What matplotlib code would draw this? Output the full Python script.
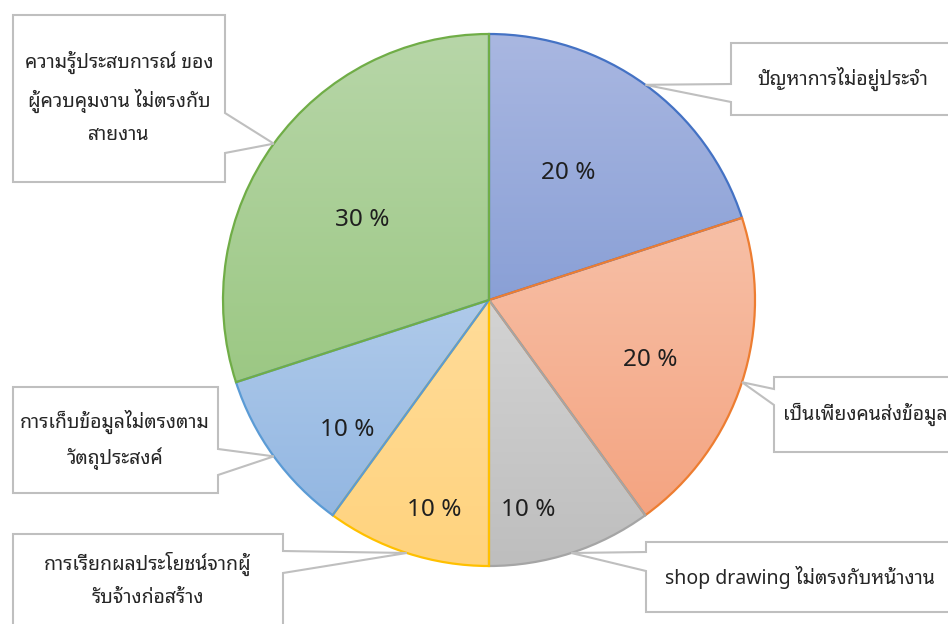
import numpy as np
import matplotlib
matplotlib.use("Agg")
import matplotlib.pyplot as plt
from matplotlib.colors import to_rgb
from matplotlib.patches import Polygon

# shares of each cause (percent), clockwise from 12 o'clock
causes = [
    "ปัญหาการไม่อยู่ประจำ",
    "เป็นเพียงคนส่งข้อมูล",
    "shop drawing ไม่ตรงกับหน้างาน",
    "การเรียกผลประโยชน์จากผู้\nรับจ้างก่อสร้าง",
    "การเก็บข้อมูลไม่ตรงตาม\nวัตถุประสงค์",
    "ความรู้ประสบการณ์ ของ\nผู้ควบคุมงาน ไม่ตรงกับ\nสายงาน",
]
shares = [20, 20, 10, 10, 10, 30]

# office-style palette: gradient top/bottom and outline
grad_top = ["#a9b7e1", "#f7c0a7", "#d3d3d3", "#ffdc99", "#afcaea", "#b7d6a8"]
grad_bot = ["#8aa0d6", "#f4a481", "#bebebe", "#ffd37e", "#93b7e2", "#9cc884"]
edge_cols = ["#4472c4", "#ed7d31", "#a5a5a5", "#ffc000", "#5b9bd5", "#70ad47"]

W, H = 948, 624
thai = ["Noto Sans Thai Looped", "Noto Sans", "DejaVu Sans"]


def iy(y):
    # pixel row (top-down) -> axes y (bottom-up)
    return H - y


fig = plt.figure(figsize=(W / 100, H / 100), dpi=100)
ax = fig.add_axes([0, 0, 1, 1])

cx, cy, R = 489, iy(300), 266
wedges, _ = ax.pie(shares, center=(cx, cy), radius=R, startangle=90,
                   counterclock=False, frame=True,
                   wedgeprops=dict(linewidth=1.6))
ax.set_xlim(0, W)
ax.set_ylim(0, H)
ax.set_aspect("equal")
ax.axis("off")

# vertical gradient fill for every slice, clipped to the wedge
for i, w in enumerate(wedges):
    w.set_facecolor("none")
    w.set_edgecolor(edge_cols[i])
    w.set_zorder(3 + i * 0.01)
    ext = w.get_path().get_extents()
    t, b = np.array(to_rgb(grad_top[i])), np.array(to_rgb(grad_bot[i]))
    f = np.linspace(0, 1, 64)[:, None]
    img = (t * (1 - f) + b * f)[:, None, :]
    im = ax.imshow(img, extent=[ext.x0, ext.x1, ext.y0, ext.y1], origin="upper",
                   aspect="auto", interpolation="bilinear", zorder=2)
    im.set_clip_path(w)

# percentage labels inside the slices (pixel positions)
label_xy = [(568, 173), (650, 360), (528, 510), (434, 510), (347, 430), (362, 220)]
for i, (x, y) in enumerate(label_xy):
    ax.text(x, iy(y), f"{shares[i]} %", ha="center", va="center",
            fontsize=17.5, color="#1f1f1f", family=thai, zorder=5)

# callout boxes: (left, top, right, bottom, side, attach_top, attach_bottom, text_x, text_y)
boxes = [
    (731, 43, 955, 115, "left", 84, 102, 843, 79),
    (774, 377, 956, 452, "left", 389, 405, 865, 414),
    (646, 542, 958, 612, "left", 552, 571, 800, 577),
    (13, 534, 283, 640, "right", 551, 573, 148, 580),
    (13, 387, 218, 493, "right", 449, 475, 115, 440),
    (13, 15, 225, 182, "right", 113, 153, 119, 98),
]

for i, w in enumerate(wedges):
    x0, y0, x1, y1, side, a0, a1, tx, ty = boxes[i]
    mid = np.deg2rad((w.theta1 + w.theta2) / 2)
    tip = (cx + R * np.cos(mid), cy + R * np.sin(mid))
    if side == "left":
        pts = [(x0, iy(y0)), (x1, iy(y0)), (x1, iy(y1)), (x0, iy(y1)),
               (x0, iy(a1)), tip, (x0, iy(a0))]
    else:
        pts = [(x0, iy(y0)), (x1, iy(y0)), (x1, iy(a0)), tip, (x1, iy(a1)),
               (x1, iy(y1)), (x0, iy(y1))]
    ax.add_patch(Polygon(pts, closed=True, facecolor="white",
                         edgecolor="#bfbfbf", linewidth=1.5, zorder=6))
    ax.text(tx, iy(ty), causes[i], ha="center", va="center", fontsize=14,
            color="#262626", family=thai, linespacing=1.8, zorder=7)

fig.savefig("out.png", dpi=100)
